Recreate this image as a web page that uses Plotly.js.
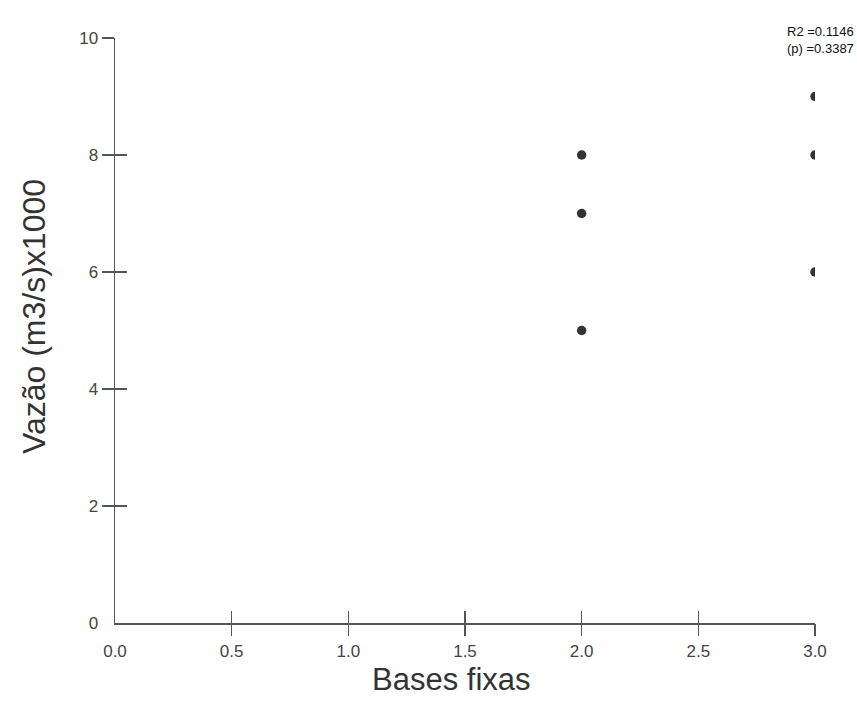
<!DOCTYPE html>
<html>
<head>
<meta charset="utf-8">
<script src="https://cdn.plot.ly/plotly-3.0.1.min.js"></script>
<style>
  html, body { margin: 0; padding: 0; background: #fff; }
  #chart { width: 857px; height: 720px; }
</style>
</head>
<body>
<div id="chart"></div>
<script>
// Observations: number of fixed bases vs. flow (m3/s x 1000)
const basesFixas = [2, 2, 2, 3, 3, 3];
const vazao = [8, 7, 5, 9, 8, 6];

// Axis captions and regression statistics
const xCaption = "Bases fixas";
const yCaption = "Vazão (m3/s)x1000";
const r2Text = "R2 =0.1146";
const pText = "(p) =0.3387";

// Tick values and labels
const xTicks = [0, 0.5, 1, 1.5, 2, 2.5, 3];
const xTickText = ["0.0", "0.5", "1.0", "1.5", "2.0", "2.5", "3.0"];
const yTicks = [0, 2, 4, 6, 8, 10];
const xMarkTicks = xTicks.slice(1);
const yMarkTicks = yTicks.slice(1);

const axisColor = "#555";
const font = "Liberation Sans, Arial, sans-serif";

const traces = [
  {
    x: basesFixas,
    y: vazao,
    type: "scatter",
    mode: "markers",
    marker: { color: "#333", size: 9.5, symbol: "circle" },
    hoverinfo: "x+y",
    showlegend: false
  },
  // invisible traces binding the tick-mark overlay axes
  { x: [0], y: [0], xaxis: "x2", yaxis: "y2", mode: "markers", marker: { opacity: 0 }, hoverinfo: "skip", showlegend: false },
  { x: [0], y: [0], xaxis: "x3", yaxis: "y3", mode: "markers", marker: { opacity: 0 }, hoverinfo: "skip", showlegend: false }
];

const tickAxisBase = {
  showgrid: false, zeroline: false, showline: false,
  showticklabels: false, tickcolor: axisColor, tickwidth: 1.5, ticklen: 12
};

const layout = {
  width: 857,
  height: 720,
  margin: { l: 115, r: 42, t: 38, b: 97 },
  paper_bgcolor: "#fff",
  plot_bgcolor: "#fff",
  font: { family: font, color: "#444" },
  xaxis: {
    range: [0, 3],
    tickvals: xTicks,
    ticktext: xTickText,
    ticks: "outside",
    ticklen: 12,
    tickcolor: "rgba(0,0,0,0)",
    tickfont: { size: 17, color: "#444" },
    showgrid: false,
    zeroline: false,
    showline: true,
    linecolor: axisColor,
    linewidth: 1.5
  },
  yaxis: {
    range: [0, 10],
    tickvals: yTicks,
    ticks: "outside",
    ticklen: 12,
    tickcolor: "rgba(0,0,0,0)",
    tickfont: { size: 17, color: "#444" },
    showgrid: false,
    zeroline: false,
    showline: true,
    linecolor: axisColor,
    linewidth: 1.5
  },
  xaxis2: Object.assign({}, tickAxisBase, { range: [0, 3], overlaying: "x", anchor: "y2", tickvals: xMarkTicks, ticks: "outside" }),
  yaxis2: Object.assign({}, tickAxisBase, { range: [0, 10], overlaying: "y", anchor: "x2", tickvals: yMarkTicks, ticks: "outside" }),
  xaxis3: Object.assign({}, tickAxisBase, { range: [0, 3], overlaying: "x", anchor: "y3", tickvals: xMarkTicks, ticks: "inside" }),
  yaxis3: Object.assign({}, tickAxisBase, { range: [0, 10], overlaying: "y", anchor: "x3", tickvals: yMarkTicks, ticks: "inside" }),
  annotations: [
    {
      xref: "paper", yref: "paper",
      x: 0.957, y: 1.028,
      xanchor: "left", yanchor: "top",
      align: "left",
      showarrow: false,
      text: r2Text + "<br>" + pText,
      font: { size: 13, color: "#111", family: font }
    },
    {
      xref: "paper", yref: "paper",
      x: 0.48, y: -0.097,
      xanchor: "center", yanchor: "middle",
      showarrow: false,
      text: xCaption,
      font: { size: 31, color: "#333", family: font }
    },
    {
      xref: "paper", yref: "paper",
      x: -0.1157, y: 0.523,
      xanchor: "center", yanchor: "middle",
      textangle: -90,
      showarrow: false,
      text: yCaption,
      font: { size: 32, color: "#333", family: font }
    }
  ]
};

Plotly.newPlot("chart", traces, layout, { displayModeBar: false, staticPlot: true });
</script>
</body>
</html>
